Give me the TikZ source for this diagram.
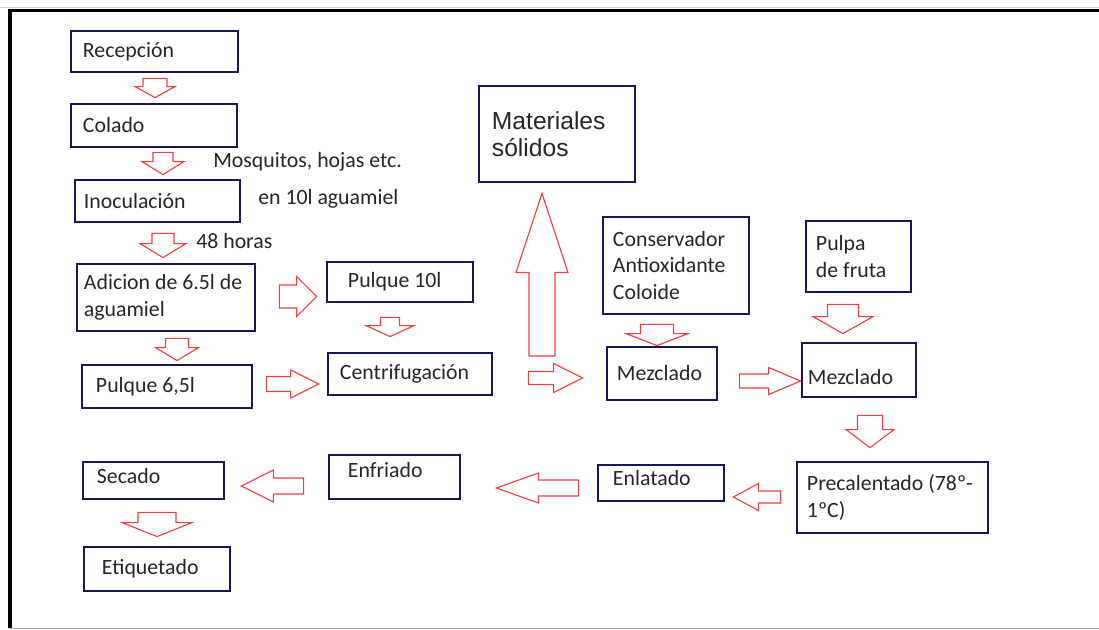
\documentclass[tikz,border=0pt]{standalone}
\usepackage{fontspec}
\setmainfont{Carlito}
\newfontfamily\arialfont{Liberation Sans}
\usetikzlibrary{calc}
\definecolor{boxnavy}{RGB}{22,22,92}
\definecolor{arrowred}{RGB}{245,60,60}
\def\pxu{0.025cm}
\def\boxfont{\fontsize{15.5}{18.8}\selectfont}
\def\blockarrow#1#2(#3:#4:#5){\draw[blockarrow] let \p1=(#1), \p2=(#2), \n1={atan2(\y2-\y1,\x2-\x1)}, \n2={veclen(\x2-\x1,\y2-\y1)} in [shift={(\p1)}, rotate=\n1] (0pt,-#3*\pxu) -- (\n2-#5*\pxu,-#3*\pxu) -- (\n2-#5*\pxu,-#4*\pxu) -- (\n2,0pt) -- (\n2-#5*\pxu,#4*\pxu) -- (\n2-#5*\pxu,#3*\pxu) -- (0pt,#3*\pxu) -- cycle;}

\begin{document}
\begin{tikzpicture}[x=0.025cm, y=-0.025cm,
		procbox/.style={draw=boxnavy, line width=2pt, align=flush left, inner sep=0pt, font=\boxfont, text=black!85},
		note/.style={anchor=west, inner sep=0pt, font=\boxfont, text=black!85},
		blockarrow/.style={draw=arrowred, line width=0.8pt, line join=miter}]
		%%%%% FRAME %%%%%
		\useasboundingbox (0,0) rectangle (1099,630);
		\draw[gray!40, line width=0.5pt] (0,7) -- (1099,7);
		\draw[line width=2.4pt] (10,628) -- (10,10.5) -- (1099,10.5);
		\draw[gray!70, line width=0.7pt] (10,628) -- (1099,628);
		
		%%%%% LEFT COLUMN %%%%%
		\node[procbox, minimum width=4.175cm, minimum height=1.025cm, text width=3.575cm] (rec) at (154.5,51.5) {Recepción};
		\node[procbox, minimum width=4.15cm, minimum height=1.075cm, text width=3.55cm] (col) at (154,125.5) {Colado};
		\node[procbox, minimum width=4.125cm, minimum height=1.05cm, text width=3.675cm] (ino) at (157.5,201) {Inoculación};
		\node[procbox, minimum width=4.45cm, minimum height=1.675cm, text width=4.1cm] (adi) at (166,297.5) {Adicion de 6.5l de\\aguamiel};
		\node[procbox, minimum width=4.25cm, minimum height=1.075cm, text width=3.55cm] (p65) at (167,386.5) {Pulque 6,5l};
		
		\node[note] (mos) at (213,162) {Mosquitos, hojas etc.};
		\node[note] (agua) at (258,199) {en 10l aguamiel};
		\node[note] (horas) at (196,241) {48 horas};
		
		%%%%% MIDDLE %%%%%
		\node[procbox, minimum width=3.65cm, minimum height=1cm, text width=2.6cm] (p10) at (400,282) {Pulque 10l};
		\node[procbox, minimum width=4.1cm, minimum height=1.05cm, text width=3.5cm] (cen) at (410,374) {Centrifugación};
		\node[procbox, minimum width=3.9cm, minimum height=2.4cm, text width=3.25cm, font=\arialfont\fontsize{17.5}{19.2}\selectfont] (mat) at (557,134) {Materiales\\sólidos};
		\coordinate (sep) at (542,356);
		
		%%%%% RIGHT %%%%%
		\node[procbox, minimum width=3.65cm, minimum height=2.425cm, text width=3.15cm] (con) at (676,265.5) {Conservador\\Antioxidante\\Coloide};
		\node[procbox, minimum width=2.625cm, minimum height=1.775cm, text width=2.125cm] (pul) at (858.5,256.5) {Pulpa\\de fruta};
		\node[procbox, minimum width=2.75cm, minimum height=1.325cm, text width=2.25cm] (mez1) at (662,373.5) {Mezclado};
		\node[procbox, minimum width=2.85cm, minimum height=1.35cm, text width=2.55cm, text height=21pt] (mez2) at (859,370) {Mezclado};
		\node[procbox, minimum width=4.775cm, minimum height=1.775cm, text width=4.275cm] (pre) at (892.5,497.5) {Precalentado (78º-\\1ºC)};
		
		%%%%% BOTTOM ROW %%%%%
		\node[procbox, minimum width=3.15cm, minimum height=0.9cm, text width=2.4cm, text depth=7pt] (enl) at (661,483) {Enlatado};
		\node[procbox, minimum width=3.275cm, minimum height=1.1cm, text width=2.325cm, text depth=10pt] (enf) at (394.5,477) {Enfriado};
		\node[procbox, minimum width=3.525cm, minimum height=0.925cm, text width=2.825cm, text depth=6.4pt] (sec) at (153.5,480.5) {Secado};
		\node[procbox, minimum width=3.65cm, minimum height=1.1cm, text width=2.75cm] (eti) at (157,569) {Etiquetado};
		
		%%%%% ARROWS %%%%%
		\blockarrow{$(rec.south)+(0.5,5)$}{$(col.north)+(1,-5)$}(12:20:11);
		\blockarrow{$(col.south)+(9,4)$}{$(ino.north)+(5.5,-4)$}(10:21:13);
		\blockarrow{$(ino.south)+(5.5,10)$}{$(adi.north)+(-3,-5)$}(11:23:14);
		\blockarrow{$(adi.south)+(11,6)$}{$(p65.north)+(10,-3)$}(11.5:21.5:13);
		\blockarrow{$(adi.east)+(23,-1)$}{$(p10.west)+(-9,14.5)$}(11.5:20:20);
		\blockarrow{$(p10.south)+(-10,14)$}{$(cen.north)+(-20,-15)$}(9.5:24:11);
		\blockarrow{$(p65.east)+(13,-2.5)$}{$(cen.west)+(-8,10)$}(7.5:14:28);
		\blockarrow{$(cen.east)+(35,4)$}{$(mez1.west)+(-23,4.5)$}(6.5:14.5:29);
		\blockarrow{sep}{$(mat.south)+(-15,10)$}(13:26:79);
		\blockarrow{$(con.south)+(-19,9)$}{$(mez1.north)+(-5,0)$}(16.5:31:12);
		\blockarrow{$(pul.south)+(-15.5,11)$}{$(mez2.north)+(-16,-8)$}(15.5:30:17);
		\blockarrow{$(mez1.east)+(21,7.5)$}{$(mez2.west)+(0,11)$}(7:13.5:32);
		\blockarrow{$(mez2.south)+(11,17)$}{$(pre.north)+(-22.5,-13)$}(12.5:24:18);
		\blockarrow{$(pre.west)+(-15,-0.5)$}{$(enl.east)+(8,14)$}(6:13.5:25);
		\blockarrow{$(enl.west)+(-18,5)$}{$(enf.east)+(35,11)$}(8:15:42);
		\blockarrow{$(enf.west)+(-24,9)$}{$(sec.east)+(16,5.5)$}(8:16:32);
		\blockarrow{$(sec.south)+(3.5,12)$}{$(eti.north)+(0,-9)$}(19:35:14);
		
		%%%%% END %%%%%
	\end{tikzpicture}
\end{document}
